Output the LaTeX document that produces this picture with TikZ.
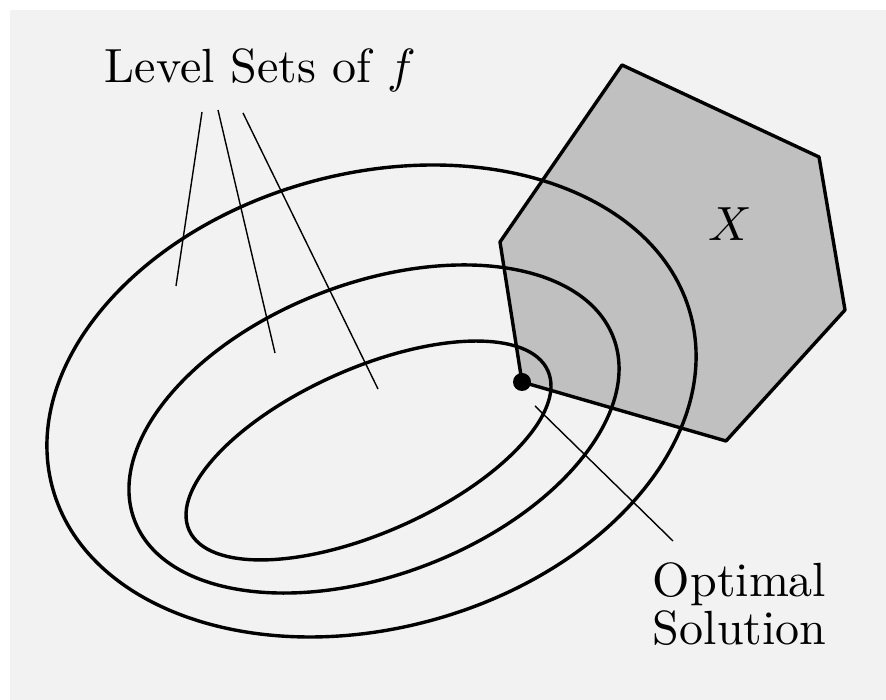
\documentclass[tikz,border=0pt]{standalone}
\usetikzlibrary{calc}
\definecolor{bggray}{HTML}{F2F2F2}
\definecolor{setgray}{HTML}{C0C0C0}
\tikzset{
  thickline/.style={line width=3.4pt, line join=round},
  pointer/.style={line width=1.4pt},
  lbl/.style={scale=4.8, inner sep=0pt, text=black}
}
\begin{document}
\begin{tikzpicture}[x=1pt,y=1pt]
\useasboundingbox (0,0) rectangle (886,700);
\fill[white] (0,0) rectangle (886,700);
\fill[bggray] (10,0) rectangle (886,690);
% constraint set X
\coordinate (p1) at (622,635);
\coordinate (p2) at (819,543);
\coordinate (p3) at (845,390);
\coordinate (p4) at (726,259);
\coordinate (p5) at (522,318);
\coordinate (p6) at (500,458);
\fill[setgray] (p1) -- (p2) -- (p3) -- (p4) -- (p5) -- (p6) -- cycle;
% level sets
\draw[thickline, rotate around={15.2:(371.5,299)}] (371.5,299) ellipse [x radius=330.6, y radius=227.4];
\draw[thickline, rotate around={20.9:(374,271)}] (374,271) ellipse [x radius=256.3, y radius=145.8];
\draw[thickline, rotate around={23.95:(368.5,249.5)}] (368.5,249.5) ellipse [x radius=196.3, y radius=82.1];
\draw[thickline] (p1) -- (p2) -- (p3) -- (p4) -- (p5) -- (p6) -- cycle;
% optimal point
\fill[black] (p5) circle [radius=9];
\node[circle, inner sep=0pt, minimum size=18pt] (dot) at (p5) {};
% labels
\node[lbl, anchor=base west] (lvl) at (104,617) {Level Sets of $f$};
\node[lbl, anchor=base] (xl) at (730,459) {$X$};
\node[lbl, anchor=north west, align=left, font=\fontsize{10}{8.3}\selectfont] (opt) at (652,138.5) {Optimal\\Solution};
% pointer lines
\coordinate (l1s) at (202,588); \coordinate (l1e) at (176,414);
\coordinate (l2s) at (218,590); \coordinate (l2e) at (275,347);
\coordinate (l3s) at (243,587); \coordinate (l3e) at (378,311);
\coordinate (os) at (535,294); \coordinate (oe) at (673,159);
\draw[pointer] (l1s) -- (l1e);
\draw[pointer] (l2s) -- (l2e);
\draw[pointer] (l3s) -- (l3e);
\draw[pointer] (os) -- (oe);
\end{tikzpicture}
\end{document}
